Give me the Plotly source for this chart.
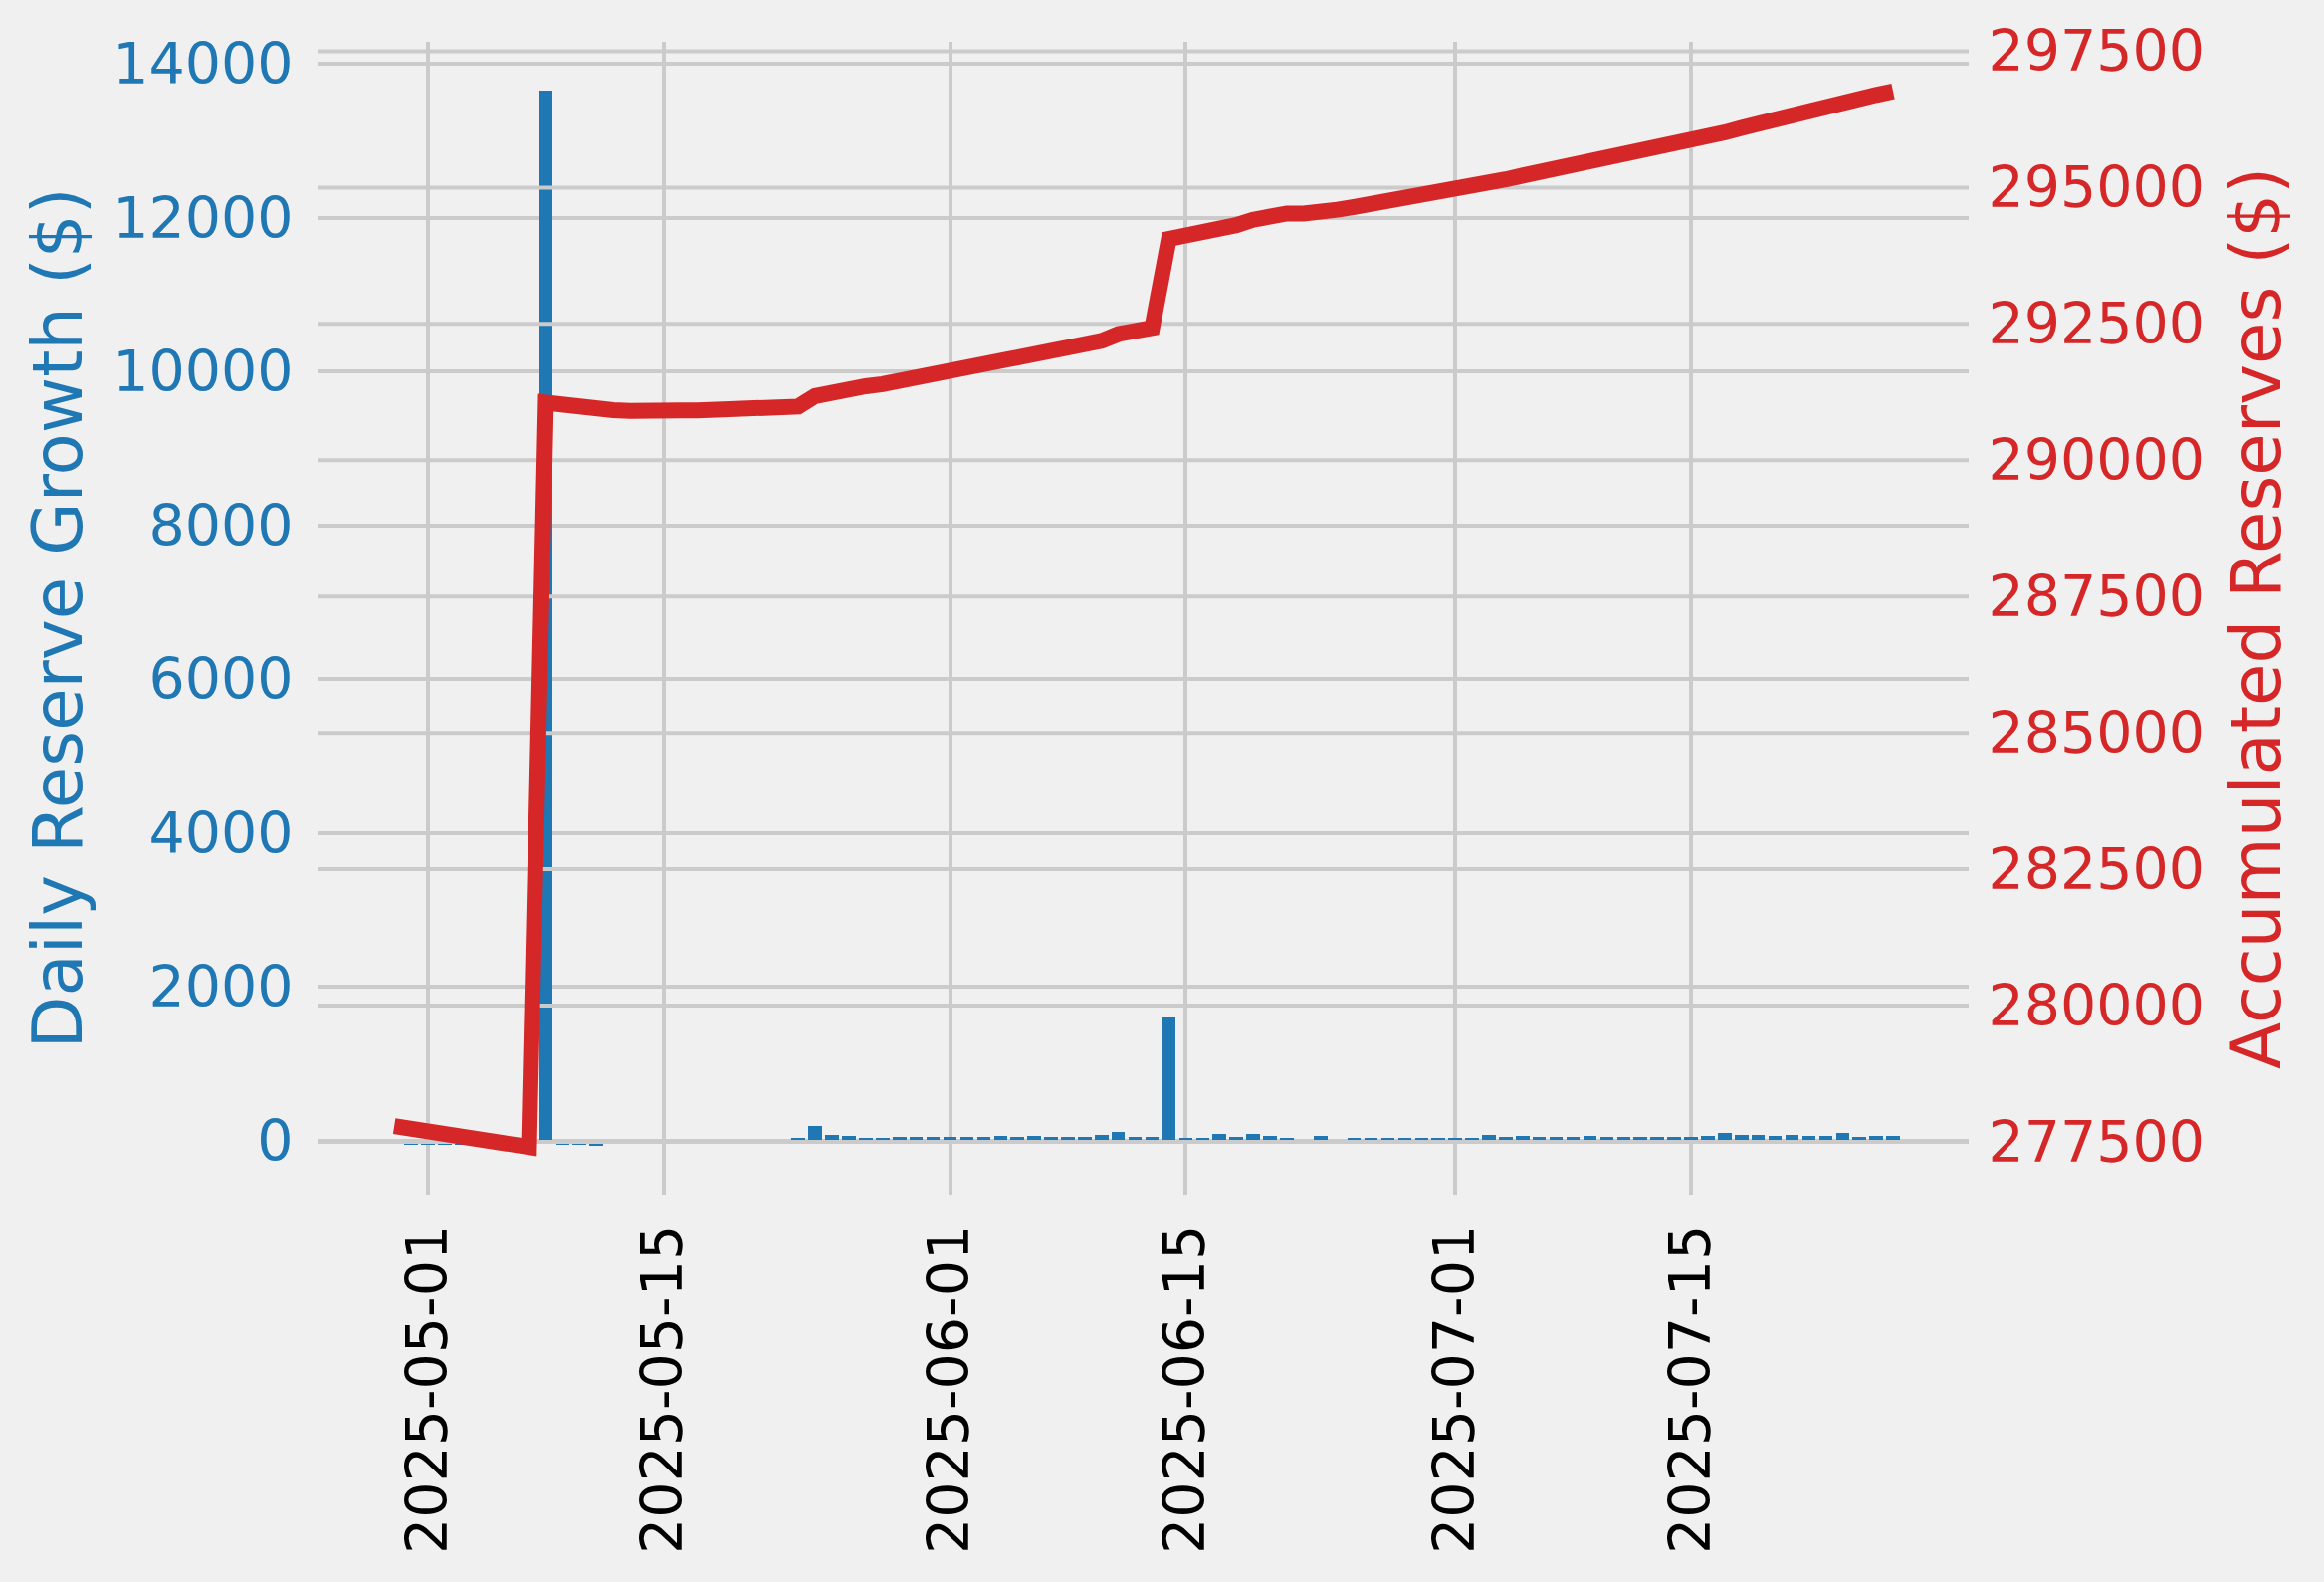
import pandas as pd
import plotly.graph_objects as go

# ---------------- data ----------------
# accumulated reserves, one value per day from 2025-04-29 to 2025-07-27
line_dates = pd.date_range("2025-04-29", "2025-07-27", freq="D")
accumulated_reserves = [
    277790,                                                     # 04-29
    277742,                                                     # 04-30
    277694, 277646, 277598, 277550, 277502, 277454, 277406,     # 05-01..05-07
    291056, 291009, 290962, 290898, 290920, 290905, 290885,     # 05-08..05-14
    290900, 290915, 290915, 290915, 290915, 290915, 290920,     # 05-15..05-21
    290945, 290984, 291177, 291254, 291318, 291357, 291396,     # 05-22..05-28
    291455, 291515, 291575,                                     # 05-29..05-31
    291635, 291690, 291745, 291815, 291870, 291940, 291995,     # 06-01..06-07
    292050, 292105, 292190, 292315, 292370, 292425, 294060,     # 06-08..06-14
    294105, 294150, 294250, 294310, 294410, 294480, 294525,     # 06-15..06-21
    294525, 294595, 294595, 294645, 294695, 294745, 294795,     # 06-22..06-28
    294845, 294900,                                             # 06-29..06-30
    294955, 295005, 295090, 295150, 295220, 295280, 295340,     # 07-01..07-07
    295400, 295470, 295530, 295590, 295650, 295710, 295770,     # 07-08..07-14
    295830, 295900, 296010, 296095, 296180, 296250, 296335,     # 07-15..07-21
    296405, 296475, 296585, 296640, 296700, 296765,             # 07-22..07-27
]

# daily reserve growth, one value per day from 2025-04-30 to 2025-07-27
bar_dates = pd.date_range("2025-04-30", "2025-07-27", freq="D")
daily_growth = [
    -48,                                                        # 04-30
    -48, -52, -48, -48, -48, -48, -48,                          # 05-01..05-07
    13650, -47, -47, -64, 0, 0, 0,                              # 05-08..05-14
    0, 0, 0, 0, 0, 0, 0,                                        # 05-15..05-21
    0, 39, 193, 77, 64, 39, 39,                                 # 05-22..05-28
    51, 51, 51,                                                 # 05-29..05-31
    51, 51, 51, 64, 51, 64, 51,                                 # 06-01..06-07
    51, 51, 77, 116, 51, 51, 1600,                              # 06-08..06-14
    39, 39, 90, 51, 90, 64, 39,                                 # 06-15..06-21
    0, 64, 0, 39, 39, 39, 39,                                   # 06-22..06-28
    39, 39,                                                     # 06-29..06-30
    39, 39, 78, 52, 65, 52, 52,                                 # 07-01..07-07
    52, 65, 52, 52, 52, 52, 52,                                 # 07-08..07-14
    52, 65, 103, 78, 78, 65, 78,                                # 07-15..07-21
    65, 65, 103, 52, 65, 65,                                    # 07-22..07-27
]
assert len(accumulated_reserves) == len(line_dates)
assert len(daily_growth) == len(bar_dates)

x_tick_dates = ["2025-05-01", "2025-05-15", "2025-06-01",
                "2025-06-15", "2025-07-01", "2025-07-15"]
left_ticks = [0, 2000, 4000, 6000, 8000, 10000, 12000, 14000]
right_ticks = [277500, 280000, 282500, 285000, 287500,
               290000, 292500, 295000, 297500]

# ---------------- style ----------------
BG = "#f0f0f0"
GRID = "#cbcbcb"
BLUE = "#1f77b4"
RED = "#d62728"
FONT = "DejaVu Sans"
X_RANGE = ["2025-04-24 12:00", "2025-07-31 11:45"]
Y1_RANGE = [-699, 14289]
Y2_RANGE = [276532, 297673]

fig = go.Figure()

fig.add_trace(go.Bar(
    x=bar_dates, y=daily_growth,
    width=0.8 * 86400000,
    marker=dict(color=BLUE, line=dict(width=0)),
    yaxis="y", showlegend=False,
))

# right-axis grid drawn between the bars and the line (as in a twin axes)
gx, gy = [], []
for t in right_ticks:
    gx += [X_RANGE[0], X_RANGE[1], None]
    gy += [t, t, None]
fig.add_trace(go.Scatter(
    x=gx, y=gy, mode="lines", yaxis="y2",
    line=dict(color=GRID, width=4), hoverinfo="skip", showlegend=False,
))

fig.add_trace(go.Scatter(
    x=line_dates, y=accumulated_reserves, mode="lines", yaxis="y2",
    line=dict(color=RED, width=16), showlegend=False,
))

fig.update_layout(
    width=2335, height=1589,
    margin=dict(l=320, r=357, t=42, b=389, autoexpand=False),
    paper_bgcolor=BG, plot_bgcolor=BG,
    font=dict(family=FONT, size=57, color="black"),
    bargap=0,
    xaxis=dict(
        type="date", range=X_RANGE,
        tickvals=x_tick_dates, ticktext=x_tick_dates, tickangle=-90,
        tickfont=dict(family=FONT, size=57, color="black"),
        showgrid=True, gridcolor=GRID, gridwidth=4,
        zeroline=False, showline=False,
        ticks="outside", ticklen=6, tickcolor="rgba(0,0,0,0)",
    ),
    yaxis=dict(
        range=Y1_RANGE,
        tickvals=left_ticks, ticktext=[str(v) for v in left_ticks],
        tickfont=dict(family=FONT, size=57, color=BLUE),
        showgrid=True, gridcolor=GRID, gridwidth=4,
        zeroline=False, showline=False,
        ticks="outside", ticklen=13, tickcolor="rgba(0,0,0,0)",
        title=dict(text="Daily Reserve Growth ($)",
                   font=dict(family=FONT, size=69, color=BLUE), standoff=8),
    ),
    yaxis2=dict(
        range=Y2_RANGE, overlaying="y", side="right", anchor="x",
        tickvals=right_ticks, ticktext=[str(v) for v in right_ticks],
        tickfont=dict(family=FONT, size=57, color=RED),
        showgrid=False, zeroline=False, showline=False,
        ticks="outside", ticklen=7, tickcolor="rgba(0,0,0,0)",
        title=dict(text="Accumulated Reserves ($)",
                   font=dict(family=FONT, size=69, color=RED), standoff=28),
    ),
)

fig.write_html(
    "out.html",
    config={"displayModeBar": False},
    post_script=(
        "document.documentElement.style.margin='0';"
        "document.body.style.margin='0';"
        "document.body.style.overflow='hidden';"
        "document.documentElement.style.overflow='hidden';"
    ),
)
